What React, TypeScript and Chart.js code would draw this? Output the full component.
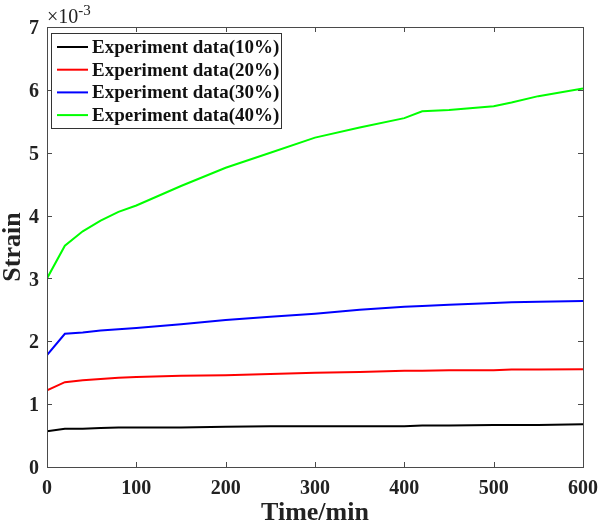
import React, { useEffect, useRef } from "react";
import { Chart, registerables } from "chart.js";

Chart.register(...registerables);

// Time (min)
const times = [0, 20, 40, 60, 80, 100, 150, 200, 250, 300, 350, 400, 420, 450, 500, 520, 550, 600];
// Strain values in units of 10^-3
const strain10 = [0.57, 0.61, 0.61, 0.62, 0.63, 0.63, 0.63, 0.64, 0.65, 0.65, 0.65, 0.65, 0.66, 0.66, 0.67, 0.67, 0.67, 0.68];
const strain20 = [1.22, 1.35, 1.38, 1.4, 1.42, 1.43, 1.45, 1.46, 1.48, 1.5, 1.51, 1.53, 1.53, 1.54, 1.54, 1.55, 1.55, 1.555];
const strain30 = [1.78, 2.12, 2.14, 2.17, 2.19, 2.21, 2.27, 2.34, 2.39, 2.44, 2.5, 2.55, 2.56, 2.58, 2.61, 2.62, 2.63, 2.64];
const strain40 = [3.0, 3.52, 3.75, 3.92, 4.06, 4.16, 4.47, 4.76, 5.0, 5.24, 5.4, 5.55, 5.66, 5.68, 5.74, 5.8, 5.9, 6.02];

const seriesLabels = [
  "Experiment data(10%)",
  "Experiment data(20%)",
  "Experiment data(30%)",
  "Experiment data(40%)",
];
const seriesColors = ["#000000", "#ff0000", "#0000ff", "#00ff00"];
const seriesValues = [strain10, strain20, strain30, strain40];

const xTicks = [0, 100, 200, 300, 400, 500, 600];
const yTicks = [0, 1, 2, 3, 4, 5, 6, 7];

const FONT = "'Liberation Serif', 'Times New Roman', serif";

const framePlugin = {
  id: "matlabFrame",
  afterDatasetsDraw(chart: any) {
    const { ctx, chartArea, scales } = chart;
    const { left, right, top, bottom } = chartArea;
    ctx.save();
    ctx.strokeStyle = "#4a4a4a";
    ctx.lineWidth = 1;
    ctx.strokeRect(left + 0.5, top + 0.5, right - left, bottom - top);
    const tl = 5;
    ctx.beginPath();
    for (const v of xTicks) {
      const px = Math.round(scales.x.getPixelForValue(v)) + 0.5;
      ctx.moveTo(px, bottom);
      ctx.lineTo(px, bottom - tl);
      ctx.moveTo(px, top);
      ctx.lineTo(px, top + tl);
    }
    for (const v of yTicks) {
      const py = Math.round(scales.y.getPixelForValue(v)) + 0.5;
      ctx.moveTo(left, py);
      ctx.lineTo(left + tl, py);
      ctx.moveTo(right, py);
      ctx.lineTo(right - tl, py);
    }
    ctx.stroke();

    // exponent label
    ctx.fillStyle = "#222";
    ctx.textBaseline = "alphabetic";
    ctx.textAlign = "left";
    ctx.font = `20px ${FONT}`;
    ctx.fillText("\u00d710", left, top - 4);
    const w = ctx.measureText("\u00d710").width;
    ctx.font = `15px ${FONT}`;
    ctx.fillText("-3", left + w, top - 12);

    // legend
    const bx = left + 4, by = top + 6, bw = 230, bh = 95;
    ctx.fillStyle = "#ffffff";
    ctx.fillRect(bx, by, bw, bh);
    ctx.strokeStyle = "#333";
    ctx.strokeRect(bx + 0.5, by + 0.5, bw, bh);
    ctx.font = `bold 19px ${FONT}`;
    ctx.textBaseline = "middle";
    chart.data.datasets.forEach((ds: any, i: number) => {
      const cy = by + 14 + i * 22.7;
      ctx.strokeStyle = ds.borderColor;
      ctx.lineWidth = 2;
      ctx.beginPath();
      ctx.moveTo(bx + 6, cy);
      ctx.lineTo(bx + 37, cy);
      ctx.stroke();
      ctx.fillStyle = "#111";
      ctx.fillText(ds.label, bx + 41, cy + 1);
    });
    ctx.restore();
  },
};

export default function App() {
  const ref = useRef<HTMLCanvasElement | null>(null);
  useEffect(() => {
    document.body.style.margin = "0";
    const canvas = ref.current!;
    const chart = new Chart(canvas, {
      type: "line",
      data: {
        datasets: seriesValues.map((vals, i) => ({
          label: seriesLabels[i],
          data: times.map((t, j) => ({ x: t, y: vals[j] })),
          borderColor: seriesColors[i],
          backgroundColor: seriesColors[i],
          borderWidth: 2,
          pointRadius: 0,
          tension: 0,
          fill: false,
        })),
      },
      options: {
        animation: false,
        responsive: false,
        maintainAspectRatio: false,
        layout: { padding: { top: 27, right: 17, left: 0, bottom: 0 } },
        plugins: { legend: { display: false }, tooltip: { enabled: false } },
        scales: {
          x: {
            type: "linear",
            min: 0,
            max: 600,
            afterBuildTicks: (s: any) => {
              s.ticks = xTicks.map((v) => ({ value: v }));
            },
            afterFit: (s: any) => {
              s.height = 60;
              s.paddingLeft = 0;
              s.paddingRight = 0;
            },
            grid: { display: false, drawTicks: false },
            border: { display: false },
            ticks: {
              color: "#222",
              font: { family: FONT, size: 20, weight: "bold" },
              padding: 10,
              maxRotation: 0,
            },
            title: {
              display: true,
              text: "Time/min",
              color: "#222",
              font: { family: FONT, size: 26, weight: "bold", lineHeight: 1 },
              padding: { top: 0, bottom: 1 },
            },
          },
          y: {
            type: "linear",
            min: 0,
            max: 7,
            afterBuildTicks: (s: any) => {
              s.ticks = yTicks.map((v) => ({ value: v }));
            },
            afterFit: (s: any) => {
              s.width = 47;
              s.paddingTop = 0;
              s.paddingBottom = 0;
            },
            grid: { display: false, drawTicks: false },
            border: { display: false },
            ticks: {
              color: "#222",
              font: { family: FONT, size: 20, weight: "bold" },
              padding: 8,
              labelOffset: 2,
            },
            title: {
              display: true,
              text: "Strain",
              color: "#222",
              font: { family: FONT, size: 26, weight: "bold", lineHeight: 1 },
              padding: { top: 0, bottom: 0 },
            },
          },
        },
      },
      plugins: [framePlugin],
    });
    return () => chart.destroy();
  }, []);
  return (
    <div style={{ width: 600, height: 527, background: "#fff" }}>
      <canvas ref={ref} width={600} height={527} style={{ display: "block" }} />
    </div>
  );
}
